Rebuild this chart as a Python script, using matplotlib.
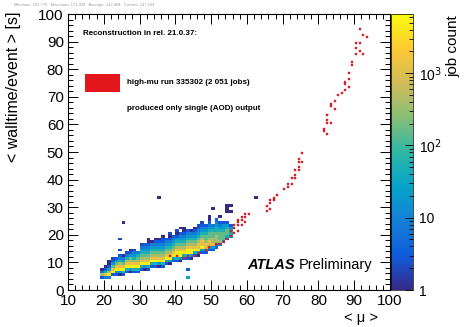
import numpy as np
import matplotlib
matplotlib.use('Agg')
import matplotlib.pyplot as plt
from matplotlib.colors import LinearSegmentedColormap, LogNorm
from matplotlib.ticker import MultipleLocator, LogLocator, NullFormatter
from matplotlib.patches import Rectangle

plt.rcParams['font.family'] = ['Liberation Sans', 'DejaVu Sans']

# ---- main 2D histogram (all jobs), read per <mu> column ----
# each column: first walltime bin and a bottom->top string of count levels
blob_mu = [19, 20, 21, 22, 23, 24, 25, 26, 27, 28, 29, 30, 31, 32, 33, 34, 35, 36, 37,
           38, 39, 40, 41, 42, 43, 44, 45, 46, 47, 48, 49, 50, 51, 52, 53, 54, 55]
blob_start = [4, 4, 4, 5, 5, 5, 5, 6, 6, 6, 6, 7, 7, 7, 8, 8, 8, 8, 9,
              9, 10, 10, 10, 11, 11, 11, 12, 12, 13, 13, 14, 14, 15, 16, 17, 18, 19]
blob_levels = ["2731", "38521", "397421", "2986421", "2498642", "14987532", "25986431",
               "25987532", "14987642", "25987543", "25987653", "2598765432", "1498765432",
               "25987654321", "2598765432", "25987654321", "14987654321", "25987654322",
               "2598765432", "14987654321", "2498765432", "25998765421", "14998765432",
               "25987654321", "25998765432", "14998765432", "25987654322", "14988765432",
               "249887654321", "24887665432", "248876654321", "2487766543", "23777655432",
               "376665432", "36665442", "3566542", "45542"]
level_counts = {'1': 1, '2': 3, '3': 8, '4': 20, '5': 50, '6': 150, '7': 400, '8': 1200, '9': 5000}

# isolated low-count cells
out_mu = [35, 25, 50, 54, 55, 54, 54, 55, 24, 24, 28, 32, 22, 41, 42, 45, 49, 62, 43, 43,
          30, 38, 47, 44, 26, 33, 36, 40, 52, 21, 27, 46]
out_wt = [33, 24, 29, 30, 30, 29, 28, 28, 18, 14, 14, 18, 11, 22, 22, 22, 26, 33, 4, 7,
          16, 20, 24, 21, 13, 17, 19, 21, 26, 10, 14, 23]
out_n = [1, 1, 1, 1, 1, 1, 1, 1, 2, 2, 2, 1, 2, 1, 1, 1, 1, 1, 30, 3,
         2, 2, 2, 1, 2, 1, 1, 2, 1, 1, 1, 2]

# ---- high-mu run 335302 (red boxes) ----
red_mu = [38.5, 40.5, 42.5, 43.5, 45.5, 46.5, 48.5, 49.5, 51.5, 52.5, 53.5, 54.5,
          55.5, 55.5, 56.5, 56.5, 56.5, 57.5, 57.5, 57.5, 57.5,
          58.5, 58.5, 58.5, 59.5, 59.5, 59.5, 60.5,
          65.5, 65.5, 66.5, 66.5, 66.5, 67.5, 67.5, 68.5, 70.5, 71.5, 71.5,
          72.5, 72.5, 73.5, 73.5, 73.5, 74.5, 74.5, 74.5, 74.5, 75.5, 75.5,
          81.5, 82.5, 81.5, 82.5, 83.5, 82.5, 82.5, 84.5, 83.5, 83.5, 84.5, 85.5, 86.5, 87.5,
          87.5, 88.5, 87.5, 88.5, 88.5, 89.5, 89.5, 90.5, 92.5, 91.5, 90.5, 90.5, 91.5, 91.5, 92.5, 93.5]
red_wt = [12.5, 12.5, 11.5, 12.5, 12.5, 13.5, 14.5, 15.5, 16.5, 16.5, 17.5, 18.5,
          19.5, 21.5, 20.5, 22.5, 23.5, 21.5, 23.5, 24.5, 25.5,
          23.5, 25.5, 26.5, 24.5, 26.5, 27.5, 27.5,
          28.5, 30.5, 29.5, 31.5, 32.5, 32.5, 33.5, 34.5, 36.5, 37.5, 38.5,
          38.5, 40.5, 40.5, 41.5, 43.5, 43.5, 44.5, 46.5, 47.5, 46.5, 49.5,
          57.5, 56.5, 58.5, 60.5, 60.5, 61.5, 63.5, 65.5, 66.5, 67.5, 68.5, 70.5, 71.5, 72.5,
          74.5, 73.5, 75.5, 76.5, 78.5, 81.5, 82.5, 85.5, 85.5, 86.5, 87.5, 89.5, 89.5, 94.5, 92.5, 91.5]

# ROOT kBird palette
bird = [(0.2082, 0.1664, 0.5293), (0.0592, 0.3599, 0.8684), (0.0780, 0.5041, 0.8385),
        (0.0232, 0.6419, 0.7914), (0.1802, 0.7178, 0.6425), (0.5301, 0.7492, 0.4662),
        (0.8186, 0.7328, 0.3499), (0.9956, 0.7862, 0.1968), (0.9764, 0.9832, 0.0539)]
cmap = LinearSegmentedColormap.from_list('bird', bird, N=255)

H = np.zeros((100, 100))
for m, s, lv in zip(blob_mu, blob_start, blob_levels):
    for k, ch in enumerate(lv):
        H[s + k, m] = level_counts[ch]
for m, w, n in zip(out_mu, out_wt, out_n):
    H[w, m] = n
edges = np.arange(0, 101)

fig = plt.figure(figsize=(4.65, 3.27), dpi=100)
ax = fig.add_axes([68 / 465, 1 - 290 / 327, 322 / 465, 276 / 327])
cax = fig.add_axes([391 / 465, 1 - 290 / 327, 22 / 465, 276 / 327])

mesh = ax.pcolormesh(edges, edges, np.ma.masked_equal(H, 0), cmap=cmap,
                     norm=LogNorm(vmin=1, vmax=6600))
ax.scatter(red_mu, red_wt, marker='s', s=4.2, c='#e6262e', edgecolors='#c0141c',
           linewidths=0.25, zorder=3)

ax.set_xlim(10, 100)
ax.set_ylim(0, 100)
ax.xaxis.set_major_locator(MultipleLocator(10))
ax.xaxis.set_minor_locator(MultipleLocator(2))
ax.yaxis.set_major_locator(MultipleLocator(10))
ax.yaxis.set_minor_locator(MultipleLocator(2))
ax.tick_params(which='both', direction='in', top=True, right=True, width=0.7, labelsize=11)
ax.tick_params(which='major', length=7, pad=3)
ax.tick_params(which='minor', length=3.5)
for sp in ax.spines.values():
    sp.set_linewidth(0.8)

# legend-like annotations
ax.text(0.047, 0.931, 'Reconstruction in rel. 21.0.37:', transform=ax.transAxes,
        fontsize=5.8, fontweight='bold', va='center', ha='left')
ax.add_patch(Rectangle((0.053, 0.717), 0.108, 0.066, transform=ax.transAxes,
                       facecolor='#e3161b', edgecolor='none'))
ax.text(0.183, 0.75, 'high-mu run 335302 (2 051 jobs)', transform=ax.transAxes,
        fontsize=5.8, fontweight='bold', va='center', ha='left')
ax.text(0.183, 0.659, 'produced only single (AOD) output', transform=ax.transAxes,
        fontsize=5.8, fontweight='bold', va='center', ha='left')
ax.text(0.556, 0.09, 'ATLAS', transform=ax.transAxes, fontsize=10.5,
        fontweight='bold', style='italic', va='center', ha='left')
ax.text(0.716, 0.09, 'Preliminary', transform=ax.transAxes, fontsize=10.5,
        va='center', ha='left')

# colour bar
cb = fig.colorbar(mesh, cax=cax)
cb.outline.set_linewidth(0.5)
cb.set_ticks([1, 10, 100, 1000])
cb.set_ticklabels(['1', '10', r'10$^2$', r'10$^3$'])
cax.yaxis.set_minor_locator(LogLocator(base=10, subs=np.arange(2, 10)))
cax.yaxis.set_minor_formatter(NullFormatter())
cax.tick_params(which='both', direction='in', right=True, left=False, labelsize=10, width=0.6)
cax.tick_params(which='major', length=6, pad=4)
cax.tick_params(which='minor', length=3)

fig.text(14 / 465, 1 - 12 / 327, '< walltime/event > [s]', rotation=90,
         ha='center', va='top', fontsize=11.5)
fig.text(378 / 465, 1 - 318 / 327, '< \u03bc >', ha='right', va='center', fontsize=10.5)
fig.text(453 / 465, 1 - 15 / 327, 'job count', rotation=90, ha='center', va='top', fontsize=11)
fig.text(14 / 465, 1 - 5 / 327,
         'Minimum: 101.776   Maximum: 171.436   Average: 142.464   Current: 147.164',
         fontsize=3, color='#9a9a9a', ha='left', va='center')

fig.savefig('out.png', dpi=100)
